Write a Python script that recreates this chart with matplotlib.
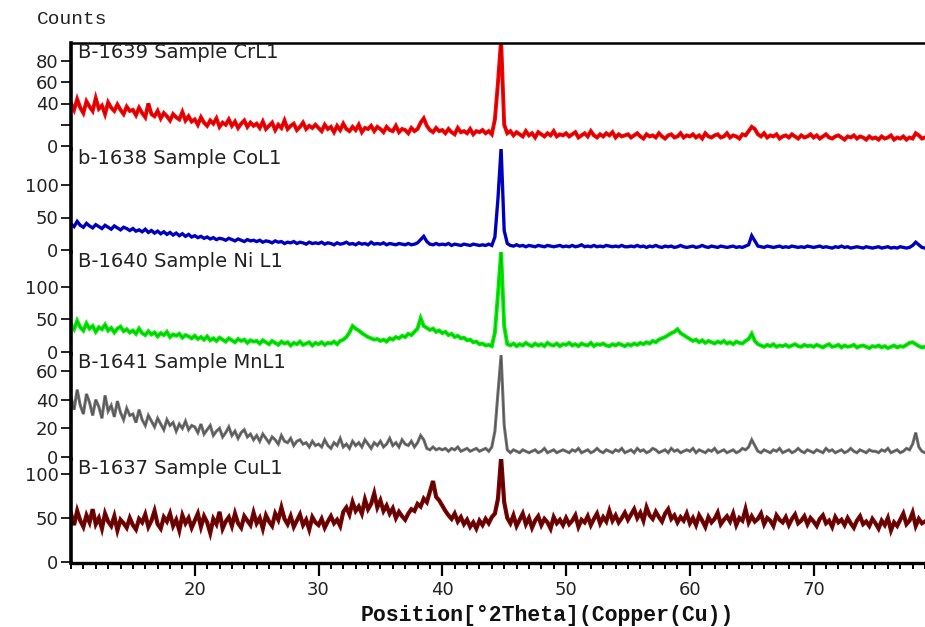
import numpy as np
import matplotlib
matplotlib.use("Agg")
import matplotlib.pyplot as plt
from matplotlib.ticker import MultipleLocator, FixedLocator

# ---------------- data ----------------
two_theta_start = 10.0
two_theta_step = 0.25
two_theta_end = 79.0

cr_counts = [
    40, 34, 44, 36, 31, 42, 37, 33, 45, 35, 38, 30, 41, 36, 33, 39, 34, 30, 37, 33,
    34, 29, 36, 31, 27, 40, 30, 28, 33, 26, 31, 28, 24, 30, 27, 25, 32, 24, 28, 23,
    25, 20, 27, 22, 19, 24, 21, 26, 18, 22, 20, 25, 19, 23, 17, 21, 24, 18, 22, 19,
    21, 17, 23, 16, 19, 22, 15, 20, 17, 24, 16, 19, 21, 15, 18, 22, 16, 19, 17, 20,
    17, 14, 20, 16, 18, 13, 19, 15, 21, 16, 14, 18, 15, 20, 13, 17, 16, 19, 14, 18,
    16, 13, 18, 15, 14, 19, 13, 16, 15, 12, 17, 14, 16, 22, 26, 19, 15, 13, 17, 14,
    15, 12, 16, 13, 11, 17, 13, 14, 12, 16, 11, 14, 13, 15, 12, 14, 11, 25, 60, 100,
    20, 12, 14, 10, 13, 11, 9, 14, 10, 12, 8, 13, 11, 9, 12, 10, 14, 9, 11, 10,
    12, 9, 11, 13, 8, 10, 12, 9, 14, 10, 8, 11, 9, 12, 10, 13, 8, 11, 9, 10,
    11, 8, 10, 12, 9, 7, 11, 9, 10, 8, 12, 9, 7, 10, 11, 8, 9, 12, 8, 10,
    9, 11, 8, 10, 7, 12, 9, 8, 10, 11, 8, 9, 12, 8, 10, 9, 7, 11, 10, 14,
    18, 16, 11, 9, 12, 8, 10, 9, 11, 7, 9, 10, 8, 11, 9, 7, 10, 8, 9, 11,
    8, 10, 7, 9, 11, 8, 7, 9, 10, 8, 6, 9, 8, 10, 7, 9, 8, 6, 9, 7,
    8, 6, 9, 7, 8, 10, 6, 8, 7, 9, 6, 8, 7, 12, 10, 7, 8,
]

co_counts = [
    40, 36, 44, 38, 35, 41, 37, 34, 39, 36, 33, 38, 35, 32, 37, 34, 31, 35, 33, 30,
    33, 29, 31, 28, 32, 27, 30, 26, 29, 25, 28, 24, 27, 23, 26, 22, 25, 21, 24, 20,
    22, 19, 21, 18, 20, 17, 19, 16, 18, 17, 15, 18, 16, 14, 17, 15, 13, 16, 14, 15,
    13, 15, 12, 14, 13, 11, 14, 12, 13, 10, 12, 11, 13, 10, 12, 11, 9, 12, 10, 11,
    10, 12, 9, 11, 10, 8, 11, 9, 10, 12, 9, 10, 8, 11, 9, 10, 8, 12, 9, 10,
    9, 11, 8, 10, 9, 8, 10, 9, 8, 10, 8, 9, 11, 16, 21, 13, 9, 8, 10, 8,
    9, 8, 10, 7, 9, 8, 7, 9, 8, 7, 9, 8, 7, 8, 7, 9, 7, 20, 80, 157,
    30, 10, 7, 6, 8, 6, 7, 5, 7, 6, 5, 7, 6, 5, 7, 6, 5, 6, 7, 5,
    6, 5, 7, 5, 6, 8, 5, 6, 5, 7, 5, 6, 5, 7, 6, 5, 6, 5, 7, 5,
    5, 6, 5, 7, 5, 6, 4, 6, 5, 7, 5, 4, 6, 5, 6, 4, 5, 7, 5, 4,
    5, 6, 4, 5, 7, 5, 4, 6, 5, 4, 6, 5, 4, 5, 6, 4, 5, 4, 6, 8,
    22, 14, 6, 5, 4, 6, 5, 4, 5, 6, 4, 5, 4, 6, 5, 4, 5, 4, 6, 5,
    4, 5, 6, 4, 5, 4, 3, 5, 4, 6, 4, 5, 3, 4, 5, 4, 3, 5, 4, 3,
    4, 5, 3, 4, 5, 3, 4, 3, 5, 4, 3, 4, 7, 12, 8, 4, 3,
]

ni_counts = [
    42, 35, 48, 38, 33, 44, 36, 40, 31, 38, 35, 42, 33, 37, 30, 36, 39, 32, 35, 30,
    33, 28, 36, 29, 26, 32, 27, 30, 24, 29, 26, 31, 23, 27, 25, 28, 22, 26, 24, 21,
    25, 20, 23, 19, 24, 18, 21, 17, 22, 19, 16, 21, 18, 15, 20, 17, 19, 14, 18, 16,
    17, 13, 18, 15, 12, 17, 14, 11, 16, 13, 15, 10, 14, 12, 16, 11, 13, 15, 10, 14,
    12, 15, 11, 14, 13, 16, 12, 17, 19, 23, 30, 40, 36, 33, 29, 26, 23, 21, 19, 20,
    17, 19, 16, 21, 19, 23, 21, 25, 23, 28, 26, 31, 36, 52, 40, 37, 34, 36, 31, 33,
    29, 31, 26, 28, 23, 25, 21, 22, 18, 19, 15, 16, 12, 13, 10, 11, 9, 30, 90, 154,
    40, 12, 10, 13, 9, 12, 10, 14, 11, 9, 13, 10, 12, 9, 14, 11, 10, 13, 9, 12,
    11, 14, 10, 12, 9, 13, 11, 10, 14, 9, 12, 11, 13, 10, 9, 12, 10, 13, 11, 9,
    12, 10, 13, 11, 14, 12, 15, 13, 17, 15, 19, 21, 23, 26, 29, 31, 35, 29, 26, 23,
    20, 17, 19, 15, 18, 14, 17, 15, 13, 16, 14, 17, 13, 15, 12, 16, 14, 13, 17, 20,
    28, 17, 12, 10, 8, 11, 9, 12, 8, 10, 9, 11, 8, 10, 12, 9, 8, 11, 9, 10,
    8, 11, 9, 7, 10, 12, 8, 9, 11, 7, 10, 8, 9, 11, 7, 9, 10, 8, 6, 9,
    8, 10, 7, 9, 6, 8, 10, 7, 9, 8, 11, 14, 15, 12, 9, 7, 8,
]

mn_counts = [
    42, 33, 47, 36, 30, 44, 38, 29, 40, 35, 27, 43, 32, 36, 28, 39, 31, 26, 34, 29,
    30, 24, 33, 26, 22, 29, 25, 21, 27, 23, 19, 26, 22, 24, 18, 23, 20, 25, 19, 22,
    21, 17, 23, 16, 19, 22, 15, 18, 20, 14, 17, 21, 15, 18, 13, 17, 19, 14, 16, 12,
    15, 11, 16, 13, 10, 14, 12, 9, 15, 11, 10, 13, 8, 11, 12, 9, 10, 7, 11, 8,
    9, 7, 12, 8, 6, 10, 8, 13, 7, 9, 6, 11, 8, 10, 7, 12, 9, 6, 10, 8,
    11, 7, 9, 13, 8, 10, 7, 12, 9, 8, 11, 7, 10, 15, 12, 6, 5, 7, 5, 6,
    5, 6, 4, 6, 5, 7, 4, 5, 6, 4, 5, 6, 4, 5, 6, 4, 7, 18, 45, 71,
    22, 5, 3, 5, 4, 3, 5, 4, 3, 4, 5, 3, 4, 6, 3, 4, 5, 3, 4, 5,
    4, 3, 5, 4, 6, 3, 4, 5, 3, 4, 6, 4, 3, 5, 4, 3, 5, 4, 6, 3,
    4, 5, 3, 6, 4, 5, 3, 4, 6, 5, 3, 4, 5, 3, 6, 4, 5, 3, 4, 5,
    4, 6, 3, 5, 4, 3, 5, 4, 6, 3, 4, 5, 3, 4, 5, 3, 4, 6, 5, 7,
    12, 8, 4, 3, 5, 4, 3, 5, 4, 6, 3, 4, 5, 3, 4, 6, 4, 3, 5, 4,
    3, 5, 4, 3, 6, 4, 5, 3, 4, 5, 3, 4, 6, 4, 3, 5, 4, 3, 5, 4,
    4, 3, 5, 4, 6, 3, 4, 5, 3, 4, 6, 5, 9, 17, 7, 4, 3,
]

cu_counts = [
    55, 42, 58, 47, 40, 53, 45, 60, 43, 50, 38, 55, 46, 41, 52, 36, 48, 44, 39, 50,
    42, 37, 49, 45, 54, 40, 47, 58, 43, 38, 51, 46, 55, 41, 48, 36, 53, 44, 50, 39,
    47, 55, 40, 52, 45, 33, 49, 43, 57, 38, 46, 51, 41, 55, 44, 39, 52, 47, 42, 56,
    44, 50, 38, 53, 46, 41, 55, 48, 62, 49, 43, 52, 40, 47, 54, 42, 48, 37, 51, 45,
    42, 49, 39, 46, 52, 44, 48, 41, 57, 62, 54, 68, 58, 63, 55, 71, 60, 66, 78, 62,
    70, 58, 64, 55, 61, 50, 57, 52, 48, 55, 60, 58, 66, 63, 72, 68, 80, 92, 74, 70,
    64, 58, 53, 49, 55, 46, 51, 43, 48, 40, 45, 38, 47, 42, 49, 44, 51, 55, 72, 119,
    68, 50, 44, 53, 41, 48, 55, 43, 50, 39, 47, 52, 42, 49, 45, 38, 51, 44, 48, 42,
    50, 43, 47, 53, 40, 48, 45, 52, 42, 49, 55, 44, 51, 46, 58, 47, 53, 45, 50, 56,
    48, 54, 60, 50, 56, 47, 62, 53, 49, 57, 51, 46, 55, 60, 49, 53, 45, 51, 47, 55,
    44, 50, 42, 53, 47, 40, 51, 45, 49, 56, 43, 48, 52, 46, 55, 42, 50, 47, 60, 45,
    52, 46, 49, 55, 43, 50, 47, 41, 53, 48, 45, 51, 42, 49, 54, 44, 47, 52, 43, 50,
    46, 41, 49, 53, 44, 47, 40, 51, 45, 48, 42, 50, 44, 39, 47, 52, 43, 46, 41, 49,
    44, 38, 47, 42, 50, 36, 45, 41, 48, 55, 43, 47, 56, 41, 49, 44, 46,
]

sample_labels = ["B-1639 Sample CrL1", "b-1638 Sample CoL1", "B-1640 Sample Ni L1",
                 "B-1641 Sample MnL1", "B-1637 Sample CuL1"]
y_ticks = [[0, 20, 40, 60, 80], [0, 50, 100], [0, 50, 100], [0, 20, 40, 60], [0, 50, 100]]
y_tick_labels = [["0", "", "40", "60", "80"], ["0", "50", "100"], ["0", "50", "100"],
                 ["0", "20", "40", "60"], ["0", "50", "100"]]
x_major_ticks = [20, 30, 40, 50, 60, 70]
x_label = "Position[°2Theta](Copper(Cu))"
y_label = "Counts"

# ---------------- styling / layout ----------------
series = [cr_counts, co_counts, ni_counts, mn_counts, cu_counts]
colors = ["#ff0000", "#0000d8", "#00ee00", "#747474", "#800000"]
edge_colors = ["#8a0000", "#000070", "#00a000", "#404040", "#1a0000"]
line_widths = [2.8, 2.4, 2.8, 2.2, 3.0]
W, H = 925, 627
panel_px = [(43, 149), (149, 252), (252, 354), (354, 459), (459, 563)]
zero_px = [146, 250, 352, 457, 562]
px_per_count = [1.0625, 0.65, 0.65, 1.433, 0.88]
left_px, right_px = 71, 925

two_theta = np.arange(two_theta_start, two_theta_end + 1e-9, two_theta_step)

fig = plt.figure(figsize=(W / 100, H / 100), dpi=100)
tick_font = dict(family="DejaVu Sans", size=13)
for i, ((top, bot), y0, s) in enumerate(zip(panel_px, zero_px, px_per_count)):
    ax = fig.add_axes([left_px / W, 1 - bot / H, (right_px - left_px) / W, (bot - top) / H])
    ax.patch.set_visible(False)
    ax.set_xlim(two_theta_start, two_theta_end)
    ax.set_ylim((y0 - bot) / s, (y0 - top) / s)
    y = np.asarray(series[i], dtype=float)
    ax.plot(two_theta, y, color=colors[i], lw=line_widths[i], solid_joinstyle="miter")
    ax.plot(two_theta, y, color=edge_colors[i], lw=0.6, alpha=0.75)
    ax.spines["right"].set_visible(False)
    ax.spines["top"].set_visible(i == 0)
    ax.spines["bottom"].set_visible(i == len(series) - 1)
    ax.spines["left"].set_linewidth(2.6)
    ax.spines["top"].set_linewidth(1.8)
    ax.spines["bottom"].set_linewidth(2.4)
    ax.yaxis.set_major_locator(FixedLocator(y_ticks[i]))
    ax.set_yticklabels(y_tick_labels[i], **tick_font, color="#222222")
    ax.tick_params(axis="y", direction="out", length=7, width=1.4, pad=2, colors="#222222")
    if i < len(series) - 1:
        ax.tick_params(axis="x", which="both", bottom=False, labelbottom=False)
    else:
        ax.xaxis.set_major_locator(FixedLocator(x_major_ticks))
        ax.xaxis.set_minor_locator(MultipleLocator(1))
        ax.set_xticklabels([str(t) for t in x_major_ticks], **tick_font, color="#222222")
        ax.tick_params(axis="x", which="major", direction="out", length=9, width=1.6, pad=4)
        ax.tick_params(axis="x", which="minor", direction="out", length=4, width=1.4)
        ax.set_xlabel(x_label, family="Liberation Mono", weight="bold", size=15.5,
                      color="#111111", va="center")
        ax.xaxis.set_label_coords((547 - left_px) / (right_px - left_px),
                                  -(615 - bot) / (bot - top))
    fig.text((left_px + 7) / W, 1 - (top + 9) / H, sample_labels[i], family="DejaVu Sans",
             size=14, color="#222222", ha="left", va="center")

fig.text(37 / W, 1 - 20 / H, y_label, family="Liberation Mono", size=14,
         color="#222222", ha="left", va="center")

fig.savefig("out.png", dpi=100)
